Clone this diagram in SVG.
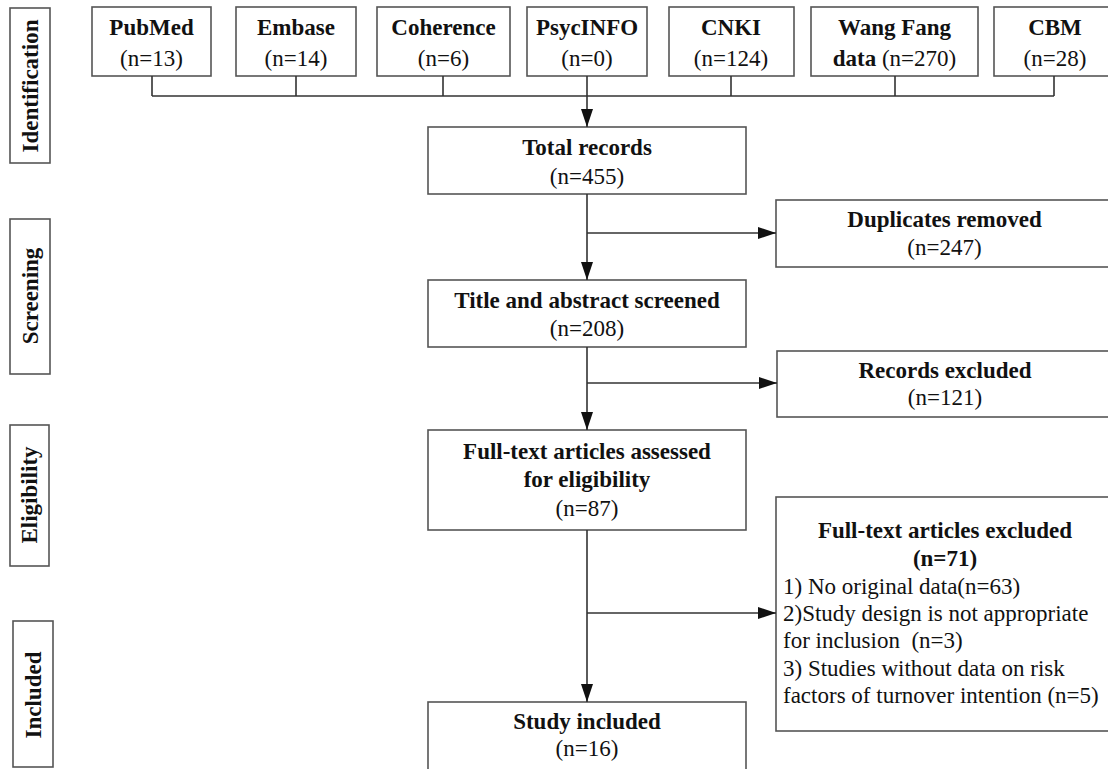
<svg xmlns="http://www.w3.org/2000/svg" width="1108" height="769" viewBox="0 0 1108 769">
<style>
.box{fill:#fff;stroke:#555;stroke-width:1.6}
.ln{fill:none;stroke:#333;stroke-width:1.6}
.b{font-family:"Liberation Serif","Times New Roman",serif;font-weight:bold;font-size:23px;fill:#111}
.r{font-family:"Liberation Serif","Times New Roman",serif;font-size:23px;fill:#111}
.c{text-anchor:middle}
</style>
<defs>
<marker id="ah" markerUnits="userSpaceOnUse" markerWidth="18" markerHeight="12" refX="18" refY="6" orient="auto">
<path d="M0,0 L18,6 L0,12 z" fill="#111"/>
</marker>
</defs>
<rect width="1108" height="769" fill="#fff"/>

<g id="stage-identification">
<rect class="box" x="10" y="8" width="40" height="155"/>
<text class="b c" transform="translate(38,86) rotate(-90)">Identification</text>
</g>
<g id="stage-screening">
<rect class="box" x="10" y="219" width="40" height="155"/>
<text class="b c" transform="translate(38,296) rotate(-90)">Screening</text>
</g>
<g id="stage-eligibility">
<rect class="box" x="10" y="425" width="39" height="141"/>
<text class="b c" transform="translate(37,495) rotate(-90)">Eligibility</text>
</g>
<g id="stage-included">
<rect class="box" x="13" y="621" width="40" height="146"/>
<text class="b c" transform="translate(41,695) rotate(-90)">Included</text>
</g>

<g id="src-pubmed">
<rect class="box" x="92" y="7" width="119" height="69"/>
<text class="b c" x="151.5" y="35">PubMed</text>
<text class="r c" x="151.5" y="66">(n=13)</text>
</g>
<g id="src-embase">
<rect class="box" x="236" y="7" width="120" height="69"/>
<text class="b c" x="296" y="35">Embase</text>
<text class="r c" x="296" y="66">(n=14)</text>
</g>
<g id="src-coherence">
<rect class="box" x="377" y="7" width="133" height="69"/>
<text class="b c" x="443.5" y="35">Coherence</text>
<text class="r c" x="443.5" y="66">(n=6)</text>
</g>
<g id="src-psycinfo">
<rect class="box" x="527" y="7" width="120" height="69"/>
<text class="b c" x="587" y="35">PsycINFO</text>
<text class="r c" x="587" y="66">(n=0)</text>
</g>
<g id="src-cnki">
<rect class="box" x="669" y="7" width="125" height="69"/>
<text class="b c" x="731" y="35">CNKI</text>
<text class="r c" x="731" y="66">(n=124)</text>
</g>
<g id="src-wangfang">
<rect class="box" x="811" y="7" width="167" height="69"/>
<text class="b c" x="894.5" y="35">Wang Fang</text>
<text class="r c" x="894.5" y="66"><tspan font-weight="bold">data</tspan> (n=270)</text>
</g>
<g id="src-cbm">
<rect class="box" x="994" y="7" width="122" height="69"/>
<text class="b c" x="1055" y="35">CBM</text>
<text class="r c" x="1055" y="66">(n=28)</text>
</g>

<g id="total">
<rect class="box" x="428" y="127" width="318" height="67"/>
<text class="b c" x="587" y="155">Total records</text>
<text class="r c" x="587" y="184">(n=455)</text>
</g>
<g id="title-abstract">
<rect class="box" x="428" y="280" width="318" height="67"/>
<text class="b c" x="587" y="308">Title and abstract screened</text>
<text class="r c" x="587" y="336">(n=208)</text>
</g>
<g id="fulltext">
<rect class="box" x="428" y="430" width="318" height="100"/>
<text class="b c" x="587" y="459">Full-text articles assessed</text>
<text class="b c" x="587" y="487">for eligibility</text>
<text class="r c" x="587" y="516">(n=87)</text>
</g>
<g id="study-included">
<rect class="box" x="428" y="702" width="318" height="80"/>
<text class="b c" x="587" y="729">Study included</text>
<text class="r c" x="587" y="756">(n=16)</text>
</g>

<g id="duplicates">
<rect class="box" x="776" y="200" width="340" height="67"/>
<text class="b c" x="944.5" y="227">Duplicates removed</text>
<text class="r c" x="944.5" y="255">(n=247)</text>
</g>
<g id="records-excluded">
<rect class="box" x="777" y="351" width="339" height="66"/>
<text class="b c" x="945" y="378">Records excluded</text>
<text class="r c" x="945" y="405">(n=121)</text>
</g>
<g id="fulltext-excluded">
<rect class="box" x="776" y="497" width="340" height="234"/>
<text class="b c" x="945" y="538">Full-text articles excluded</text>
<text class="b c" x="945" y="566">(n=71)</text>
<text class="r" x="783" y="594">1) No original data(n=63)</text>
<text class="r" x="783" y="621">2)Study design is not appropriate</text>
<text class="r" x="783" y="648" style="white-space:pre">for inclusion  (n=3)</text>
<text class="r" x="783" y="676">3) Studies without data on risk</text>
<text class="r" x="783" y="703">factors of turnover intention (n=5)</text>
</g>

<g id="connectors">
<path class="ln" d="M152,76 V96 M296,76 V96 M443,76 V96 M731,76 V96 M895,76 V96 M1054,76 V96 M152,96 H1054"/>
<path class="ln" d="M587,76 V127" marker-end="url(#ah)"/>
<path class="ln" d="M587,194 V280" marker-end="url(#ah)"/>
<path class="ln" d="M587,233 H776" marker-end="url(#ah)"/>
<path class="ln" d="M587,347 V430" marker-end="url(#ah)"/>
<path class="ln" d="M587,383 H777" marker-end="url(#ah)"/>
<path class="ln" d="M587,530 V702" marker-end="url(#ah)"/>
<path class="ln" d="M587,613 H776" marker-end="url(#ah)"/>
</g>
</svg>
